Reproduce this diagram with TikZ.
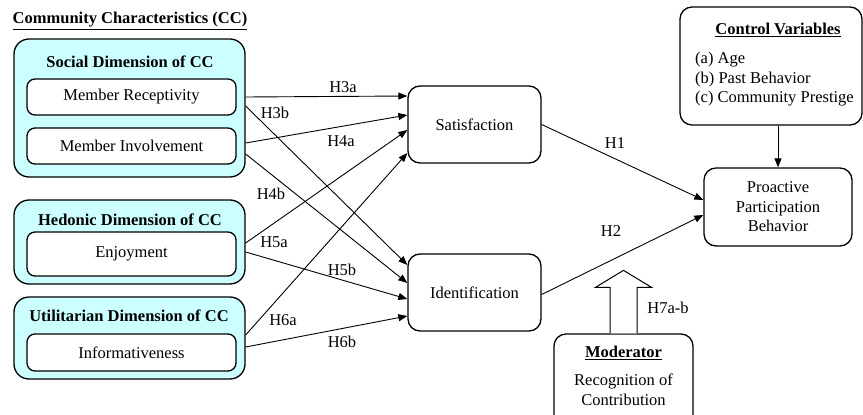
\documentclass[tikz,border=0pt]{standalone}
\usepackage{fontspec}
\setmainfont{Liberation Serif}
\usetikzlibrary{calc,arrows.meta}
\definecolor{cyanbg}{HTML}{CCFFFF}
\begin{document}
\begin{tikzpicture}[x=1pt,y=-1pt,
  font=\fontsize{16.5}{19}\selectfont,
  outerbox/.style={draw, line width=1.3pt, rounded corners=15pt, fill=cyanbg, minimum width=231pt, inner sep=0pt},
  innerbox/.style={draw, line width=1.3pt, rounded corners=8pt, fill=white, minimum width=209pt, inner sep=0pt},
  mainbox/.style={draw, line width=1.3pt, rounded corners=12pt, inner sep=0pt, align=center},
  arr/.style={-{Triangle[length=9pt,width=7pt]}, line width=0.9pt},
  lbl/.style={inner sep=0pt},
  ttl/.style={inner sep=0pt, font=\fontsize{16.5}{19}\selectfont\bfseries}]
\path[use as bounding box] (0,0) rectangle (863,415);
\clip (0,0) rectangle (863,415);

% title
\node[ttl] (cctitle) at (130,21) {\underline{Community Characteristics (CC)}};

% outer dimension boxes
\node[outerbox, minimum height=138pt] (social) at (129.5,108) {};
\node[outerbox, minimum height=84pt] (hedonic) at (129.5,242) {};
\node[outerbox, minimum height=82pt] (util) at (129.5,338) {};
\node[ttl] (socialt) at (130,62) {Social Dimension of CC};
\node[ttl] (hedonict) at (130,220) {Hedonic Dimension of CC};
\node[ttl] (utilt) at (129,316) {Utilitarian Dimension of CC};

% inner boxes
\node[innerbox, minimum height=36pt] (mr) at (131.5,97) {Member Receptivity};
\node[innerbox, minimum height=36pt] (mi) at (131.5,146) {Member Involvement};
\node[innerbox, minimum height=44pt] (enj) at (131.5,254) {Enjoyment};
\node[innerbox, minimum height=37pt] (inf) at (131.5,352.5) {Informativeness};

% mediators
\node[mainbox, minimum width=133pt, minimum height=77pt] (sat) at (474.5,124.5) {Satisfaction};
\node[mainbox, minimum width=133pt, minimum height=77pt] (ident) at (474.5,292.5) {Identification};

% outcome
\node[mainbox, minimum width=148pt, minimum height=78pt, font=\fontsize{16.5}{19.5}\selectfont] (pp) at (778,207) {Proactive\\Participation\\Behavior};

% control variables
\node[mainbox, minimum width=182pt, minimum height=118pt] (cv) at (771,66) {};
\node[ttl] (cvt) at (778,30) {\underline{Control Variables}};
\node[lbl, anchor=west] (cva) at (695,60) {(a) Age};
\node[lbl, anchor=west] (cvb) at (695,79.5) {(b) Past Behavior};
\node[lbl, anchor=west] (cvc) at (695,99) {(c) Community Prestige};

% moderator
\node[mainbox, minimum width=139pt, minimum height=96pt] (mod) at (623.5,382) {};
\node[ttl] (modt) at (623.5,353) {\underline{Moderator}};
\node[lbl] (modl1) at (623.5,381) {Recognition of};
\node[lbl] (modl2) at (623.5,399.5) {Contribution};

% block arrow
\draw[line width=1pt, fill=white, line join=miter]
  ($(mod.north)+(-13.5,0)$) -- ($(mod.north)+(-13.5,-46)$) -- ($(mod.north)+(-28,-46)$)
  -- ($(mod.north)+(0,-63)$) -- ($(mod.north)+(28,-46)$) -- ($(mod.north)+(13.5,-46)$)
  -- ($(mod.north)+(13.5,0)$);
\node[lbl] (h7) at (668,308) {H7a-b};

% connectors to Satisfaction
\draw[arr] (mr.east -| social.east) -- ($(sat.west)+(0,-28.5)$);
\draw[arr] ($(mi.east -| social.east)+(0,-3)$) -- ($(sat.west)+(0,-9.5)$);
\draw[arr] ($(enj.east -| social.east)+(0,-11)$) -- ($(sat.west)+(0,5.5)$);
\draw[arr] ($(inf.east -| social.east)+(0,-17.5)$) -- ($(sat.west)+(0,28.5)$);

% connectors to Identification
\draw[arr] ($(mr.east -| social.east)+(0,9)$) -- ($(ident.west)+(0,-27.5)$);
\draw[arr] ($(mi.east -| social.east)+(0,8)$) -- ($(ident.west)+(0,-9.5)$);
\draw[arr] ($(enj.east -| social.east)+(0,-2)$) -- ($(ident.west)+(0,6.5)$);
\draw[arr] ($(inf.east -| social.east)+(0,-5.5)$) -- ($(ident.west)+(0,23.5)$);

% hypothesis labels
\node[lbl] (h3a) at (343,87) {H3a};
\node[lbl] (h3b) at (275,113) {H3b};
\node[lbl] (h4a) at (341,141) {H4a};
\node[lbl] (h4b) at (271,194) {H4b};
\node[lbl] (h5a) at (274,242) {H5a};
\node[lbl] (h5b) at (342,270) {H5b};
\node[lbl] (h6a) at (283,320) {H6a};
\node[lbl] (h6b) at (342,342) {H6b};

% to outcome
\draw[arr] (sat.east) -- ($(pp.west)+(0,-7)$);
\draw[arr] ($(ident.east)+(0,2)$) -- ($(pp.west)+(0,8)$);
\node[lbl] (h1) at (615,143) {H1};
\node[lbl] (h2) at (611,231) {H2};

\draw[arr] (cv.south -| pp.north) -- (pp.north);
\end{tikzpicture}
\end{document}
